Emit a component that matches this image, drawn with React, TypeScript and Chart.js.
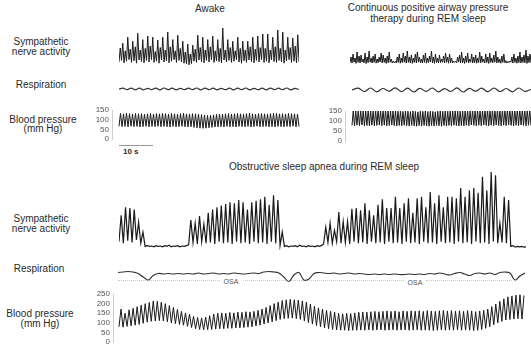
import React, { useEffect, useRef } from 'react';
import { Chart, registerables } from 'chart.js';

Chart.register(...registerables);

// ---------- Awake (top left) ----------
// Sympathetic nerve activity, arbitrary units (trough, peak, trough, peak ...)
const awakeSna = [
  10, 45, 14, 57, 8, 38, 12, 72, 16, 42,
  9, 62, 13, 48, 7, 82, 15, 40, 11, 66,
  8, 44, 14, 75, 10, 50, 16, 72, 9, 36,
  12, 65, 7, 46, 15, 72, 10, 40, 13, 85,
  8, 48, 12, 66, 16, 38, 9, 77, 14, 44,
  10, 62, 7, 35, 5, 55, 3, 30, 6, 52,
  12, 42, 9, 77, 15, 46, 11, 72, 8, 40,
  14, 66, 10, 48, 16, 75, 9, 38, 13, 66,
  11, 44, 8, 95, 15, 40, 10, 66, 14, 46,
  9, 62, 12, 38, 16, 72, 10, 44, 7, 62,
  13, 40, 9, 62, 15, 48, 11, 72, 8, 42,
  14, 75, 10, 46, 16, 80, 9, 44, 12, 80,
  8, 40, 15, 72, 11, 48, 9, 90, 14, 44,
  10, 85, 7, 40, 13, 72, 16, 46, 9, 70,
  12, 50, 8, 78, 10,
];
// Respiration, arbitrary units
const awakeResp = [
  0, 0.8, -0.6, 0.9, -0.7, 0.8, -0.8, 0.7, -0.6, 0.9,
  -0.8, 1.0, -0.7, 0.8, -0.9, 0.7, -0.6, 0.8, -0.7, 1.0,
  -0.8, 0.9, -0.6, 0.8, -0.9, 0.7, -0.7, 0.9, -0.8, 0.8,
  -0.6, 1.0, -0.9, 0.7, -0.7, 0.8, -0.8, 0.9, -0.6, 0.8,
  -0.7, 1.0, -0.8, 0.6, -0.5,
];
// Blood pressure, mm Hg (diastolic, systolic, ...)
const awakeBp = [
  66, 132, 64, 130, 65, 133, 63, 131, 66, 129,
  64, 132, 65, 130, 62, 131, 64, 128, 66, 130,
  63, 132, 65, 129, 64, 131, 66, 130, 63, 133,
  65, 131, 64, 129, 62, 132, 65, 130, 63, 128,
  64, 131, 66, 133, 63, 130, 62, 129, 64, 131,
  60, 130, 58, 128, 56, 126, 55, 124, 56, 122,
  58, 123, 60, 125, 62, 127, 63, 129, 64, 128,
  62, 130, 65, 131, 63, 129, 64, 130, 62, 132,
  65, 130, 64, 129, 63, 131, 65, 133, 62, 130,
  64, 128, 66, 131, 63, 132, 64, 130, 65, 129,
  63, 131, 64, 133, 62, 132, 65, 130, 64, 131,
  63, 129, 65, 132, 64, 131, 66, 130, 63, 128, 65,
];

// ---------- CPAP during REM sleep (top right) ----------
const cpapSna = [
  2, 30, 0, 45, 4, 25, -2, 55, 3, 35,
  0, 40, 5, 20, 1, 50, -3, 30, 2, 60,
  4, 25, 0, 35, 3, 45, -1, 20, 2, 30,
  5, 50, 0, 40, 3, 25, -2, 35, 1, 55,
  4, 20, 0, 10, 2, 8, 0, 30, 3, 45,
  -1, 25, 2, 50, 4, 35, 0, 60, 3, 30,
  1, 40, -2, 25, 3, 45, 0, 55, 4, 30,
  2, 20, 0, 40, 3, 50, -1, 25, 2, 35,
  5, 60, 1, 30, -2, 45, 3, 25, 0, 40,
  2, 20, 4, 35, 0, 50, 3, 30, -1, 45,
  2, 25, 0, 10, 3, 8, 1, 30, 4, 40,
  0, 55, 2, 25, -2, 35, 3, 50, 1, 20,
  4, 45, 0, 30, 2, 40, -1, 25, 3, 55,
  1, 35, 4, 20, 0, 45, 2, 30, -2, 50,
  3, 25, 1, 40, 4, 60, 0, 30, 2, 20,
  -1, 35, 3, 45, 1, 12, 0, 8, 2, 10,
  4, 30, 0, 45, 3, 25, -1, 35, 2, 55,
  0, 30, 3, 40, 1, 65, -2, 35, 2, 45, 1,
];
const cpapResp = [
  0, 1.8, -1.5, 2.0, -1.8, 1.5, -1.2, 2.2, -1.6, 1.8,
  -2.0, 1.6, -1.4, 2.0, -1.8, 1.4, -1.5, 2.2, -2.0, 1.6,
  -1.2, 1.8, -1.7, 2.0, -1.5, 1.5, -1.8, 2.0, -1.4, 0.8,
];
const cpapBp = [
  78, 152, 76, 150, 79, 154, 77, 151, 80, 153,
  76, 150, 78, 155, 77, 152, 79, 150, 76, 153,
  78, 156, 80, 152, 77, 154, 79, 157, 76, 153,
  78, 151, 80, 150, 77, 152, 75, 149, 78, 151,
  76, 148, 79, 150, 77, 149, 75, 147, 78, 150,
  76, 148, 74, 146, 77, 149, 75, 148, 78, 150,
  76, 147, 74, 149, 77, 148, 75, 146, 78, 149,
  76, 150, 74, 148, 77, 150, 75, 149, 78, 151,
  76, 150, 79, 152, 77, 151, 75, 149, 78, 152,
  76, 150, 79, 153, 77, 151, 80, 154, 78, 152,
  76, 155, 79, 153, 77, 156, 80, 154, 78, 157,
  76, 155, 79, 158, 77, 156, 80, 157, 78, 155,
  76, 158, 79, 156, 77, 159, 80, 157, 78, 155,
  76, 157, 79, 159, 77, 156, 80, 158, 78, 157,
  76, 156, 79, 158, 77,
];

// ---------- Obstructive sleep apnea during REM sleep (bottom) ----------
const osaSna = [
  8, 41, 6, 51, 9, 50, 7, 48, 10, 32, 6, 20,
  2, 3, 2, 2.5, 1.5, 3, 2, 2.5, 1.5, 3, 2, 3.5, 1.5, 2.5, 2, 3, 1.5, 2.5, 2, 3,
  4, 35, 7, 31, 5, 40, 8, 30, 6, 44, 7, 48, 5, 51, 8, 53, 6, 55, 7, 57, 5, 56,
  8, 60, 6, 57, 7, 48, 5, 57, 8, 59, 6, 61, 7, 64, 5, 54, 8, 66, 6, 60, 3, 20,
  2, 3, 1.5, 2.5, 2, 3, 1.5, 3.5, 2, 2.5, 1.5, 3, 2, 2.5, 1.5, 3, 2, 3,
  5, 26, 7, 31, 6, 22, 8, 45, 6, 33, 7, 33, 5, 49, 8, 50, 6, 47, 7, 56,
  5, 47, 8, 41, 6, 54, 7, 61, 5, 50, 8, 50, 6, 64, 7, 50, 5, 56, 8, 62,
  6, 44, 7, 62, 5, 64, 8, 51, 6, 70, 7, 56, 5, 66, 8, 51, 6, 64, 7, 64,
  5, 62, 8, 75, 6, 64, 7, 72, 5, 75, 8, 69, 6, 89, 7, 72, 5, 95, 8, 91,
  6, 31, 7, 64, 6, 60,
  2, 3, 1, 2, 1.5, 2, 1, 1.5,
];
const osaResp = [
  1.5, 2, 2.5, 2, 0.5, -3, -6, -1.5, 0.5, 0,
  0.5, 0, 0.5, 0, 0.5, 0, 1, 0, 0.5, 1,
  0, 0.5, 0, 1, 0.5, 0, 0.5, 1, 0.5, 2,
  2.5, 2, 1, -3, -7.5, -1, 1.5, -6, -5, 0.5,
  1.5, 1, 0.5, 1, 0, 0.5, 1, 0, 0.5, 0,
  -0.5, 0, -0.5, 0, -0.5, 0, -0.5, -0.5, 0, -0.5,
  0, -0.5, 0.5, 0, 1, 0, -1, 0.5, 1.5, 0,
  -1.5, 0.5, 1, 0, 1, -0.5, 1.5, 2, 1, -6,
  -2, 1,
];
const osaBp = [
  80, 172, 78, 150, 82, 168, 85, 176, 88, 184,
  92, 192, 98, 200, 104, 206, 108, 214, 110, 212,
  112, 208, 110, 200, 106, 190, 100, 180, 96, 170,
  92, 160, 88, 152, 82, 145, 76, 134, 70, 128,
  66, 126, 64, 130, 65, 138, 66, 146, 68, 150,
  70, 152, 70, 150, 72, 154, 72, 152, 74, 156,
  74, 155, 76, 158, 78, 157, 80, 160, 84, 165,
  88, 172, 94, 180, 100, 190, 106, 200, 112, 208,
  118, 216, 122, 220, 124, 222, 125, 220, 122, 218,
  118, 214, 110, 208, 102, 198, 94, 186, 86, 178,
  80, 172, 74, 165, 70, 160, 66, 156, 64, 150,
  62, 147, 62, 150, 60, 148, 62, 152, 62, 155,
  63, 157, 62, 156, 64, 158, 62, 160, 63, 158,
  64, 160, 62, 162, 63, 160, 64, 162, 62, 158,
  63, 162, 64, 160, 62, 163, 63, 161, 64, 163,
  62, 160, 63, 164, 62, 162, 60, 160, 62, 163,
  64, 165, 62, 162, 63, 164, 62, 161, 64, 163,
  62, 160, 63, 164, 62, 162, 60, 158, 62, 162,
  66, 165, 72, 172, 80, 185, 90, 198, 100, 212,
  108, 225, 115, 235, 118, 240, 120, 244, 122, 246,
  120, 242,
];

const bpTicksTop = 50;
const bpTicksBottom = 50;

const FONT = '"Liberation Sans", Arial, Helvetica, sans-serif';

type AxisSpec = { x: number; step: number; padTop: number; padBottom: number };

type TraceProps = {
  samples: number[];
  left: number;
  top: number;
  width: number;
  height: number;
  yMin: number;
  yMax: number;
  dataStart?: number;
  dataEnd?: number;
  axis?: AxisSpec;
  color?: string;
  lineWidth?: number;
  tension?: number;
};

function Trace(p: TraceProps) {
  const ref = useRef<HTMLCanvasElement>(null);
  useEffect(() => {
    const n = p.samples.length;
    const areaLeft = p.axis ? p.axis.x : p.left;
    const areaRight = p.left + p.width;
    const x0 = p.dataStart ?? areaLeft;
    const x1 = p.dataEnd ?? areaRight;
    const ppu = (x1 - x0) / (n - 1);
    const xMin = -(x0 - areaLeft) / ppu;
    const xMax = n - 1 + (areaRight - x1) / ppu;
    const axis = p.axis;
    const chart = new Chart(ref.current as HTMLCanvasElement, {
      type: 'line',
      data: {
        datasets: [
          {
            data: p.samples.map((v, i) => ({ x: i, y: v })),
            borderColor: p.color ?? '#1a1a1a',
            borderWidth: p.lineWidth ?? 1,
            pointRadius: 0,
            tension: p.tension ?? 0,
            fill: false,
          },
        ],
      },
      options: {
        animation: false,
        responsive: false,
        devicePixelRatio: 1,
        events: [],
        layout: {
          padding: axis
            ? { top: axis.padTop, bottom: axis.padBottom, left: 0, right: 0 }
            : 0,
        },
        plugins: {
          legend: { display: false },
          tooltip: { enabled: false },
        },
        scales: {
          x: { type: 'linear', display: false, min: xMin, max: xMax },
          y: axis
            ? {
                type: 'linear',
                min: p.yMin,
                max: p.yMax,
                afterFit: (s: any) => {
                  s.width = axis.x - p.left;
                },
                grid: { display: false, drawTicks: false },
                border: { display: true, color: '#cfcfcf', width: 1 },
                ticks: {
                  stepSize: axis.step,
                  autoSkip: false,
                  padding: 3,
                  color: '#555',
                  font: { family: FONT, size: 8 },
                },
              }
            : { type: 'linear', display: false, min: p.yMin, max: p.yMax },
        },
      } as any,
    });
    return () => chart.destroy();
  }, []);
  return (
    <canvas
      ref={ref}
      width={p.width}
      height={p.height}
      style={{ position: 'absolute', left: p.left, top: p.top, width: p.width, height: p.height }}
    />
  );
}

function Label(props: { text: string; cx?: number; x?: number; cy: number; size?: number; bold?: boolean; color?: string }) {
  const size = props.size ?? 10;
  const style: React.CSSProperties = {
    position: 'absolute',
    top: props.cy - size / 2,
    fontFamily: FONT,
    fontSize: size,
    lineHeight: `${size}px`,
    whiteSpace: 'nowrap',
    color: props.color ?? '#2a2a2a',
    fontWeight: props.bold ? 'bold' : 'normal',
  };
  if (props.cx !== undefined) {
    style.left = props.cx;
    style.transform = 'translateX(-50%)';
  } else {
    style.left = props.x;
  }
  return <div style={style}>{props.text}</div>;
}

export default function App() {
  return (
    <div
      style={{
        position: 'absolute',
        left: 0,
        top: 0,
        width: 531,
        height: 350,
        background: '#fff',
        overflow: 'hidden',
      }}
    >
      {/* titles */}
      <Label text="Awake" cx={210} cy={9} />
      <Label text="Continuous positive airway pressure" cx={428} cy={8} />
      <Label text="therapy during REM sleep" cx={428} cy={19} />
      <Label text="Obstructive sleep apnea during REM sleep" cx={324} cy={167} />

      {/* row labels top */}
      <Label text="Sympathetic" cx={41} cy={42} />
      <Label text="nerve activity" cx={41} cy={52} />
      <Label text="Respiration" cx={41} cy={85} />
      <Label text="Blood pressure" cx={43} cy={120} />
      <Label text="(mm Hg)" cx={43} cy={129} />

      {/* row labels bottom */}
      <Label text="Sympathetic" cx={41} cy={219} />
      <Label text="nerve activity" cx={41} cy={229} />
      <Label text="Respiration" cx={39} cy={269} />
      <Label text="Blood pressure" cx={40} cy={314} />
      <Label text="(mm Hg)" cx={40} cy={324} />

      {/* scale bar */}
      <div style={{ position: 'absolute', left: 119, top: 145, width: 34, height: 0, borderTop: '1px solid #999' }} />
      <Label text="10 s" x={123} cy={152} size={8} bold />

      {/* OSA markers */}
      <div style={{ position: 'absolute', left: 118, top: 280, width: 102, height: 0, borderTop: '1px dotted #c8c8c8' }} />
      <div style={{ position: 'absolute', left: 243, top: 280, width: 161, height: 0, borderTop: '1px dotted #c8c8c8' }} />
      <div style={{ position: 'absolute', left: 426, top: 280, width: 86, height: 0, borderTop: '1px dotted #c8c8c8' }} />
      <Label text="OSA" cx={231} cy={281} size={7} color="#555" />
      <Label text="OSA" cx={415} cy={282} size={7} color="#555" />

      {/* Awake */}
      <Trace samples={awakeSna} left={119} top={26} width={180} height={40} yMin={0} yMax={100} />
      <Trace samples={awakeResp} left={119} top={84} width={180} height={10} yMin={-5} yMax={5} tension={0.4} lineWidth={1.2} color="#333" />
      <Trace
        samples={awakeBp}
        left={90}
        top={102}
        width={210}
        height={45}
        yMin={0}
        yMax={150}
        dataStart={119}
        dataEnd={299}
        axis={{ x: 112, step: bpTicksTop, padTop: 8, padBottom: 8 }}
      />

      {/* CPAP */}
      <Trace samples={cpapSna} left={350} top={44} width={181} height={22} yMin={-15} yMax={95} />
      <Trace samples={cpapResp} left={352} top={82} width={179} height={16} yMin={-8} yMax={8} tension={0.4} lineWidth={1.2} color="#333" />
      <Trace
        samples={cpapBp}
        left={323}
        top={103}
        width={208}
        height={46}
        yMin={0}
        yMax={150}
        dataStart={352}
        dataEnd={531}
        axis={{ x: 345, step: bpTicksTop, padTop: 8, padBottom: 8 }}
      />

      {/* OSA */}
      <Trace samples={osaSna} left={119} top={165} width={407} height={85} yMin={-2.5} yMax={103.75} lineWidth={1.2} />
      <Trace samples={osaResp} left={118} top={262} width={407} height={24} yMin={-12} yMax={12} tension={0.4} lineWidth={1.2} color="#333" />
      <Trace
        samples={osaBp}
        left={91}
        top={286}
        width={435}
        height={64}
        yMin={0}
        yMax={250}
        dataStart={119}
        dataEnd={524}
        axis={{ x: 113, step: bpTicksBottom, padTop: 8, padBottom: 5 }}
      />
    </div>
  );
}
